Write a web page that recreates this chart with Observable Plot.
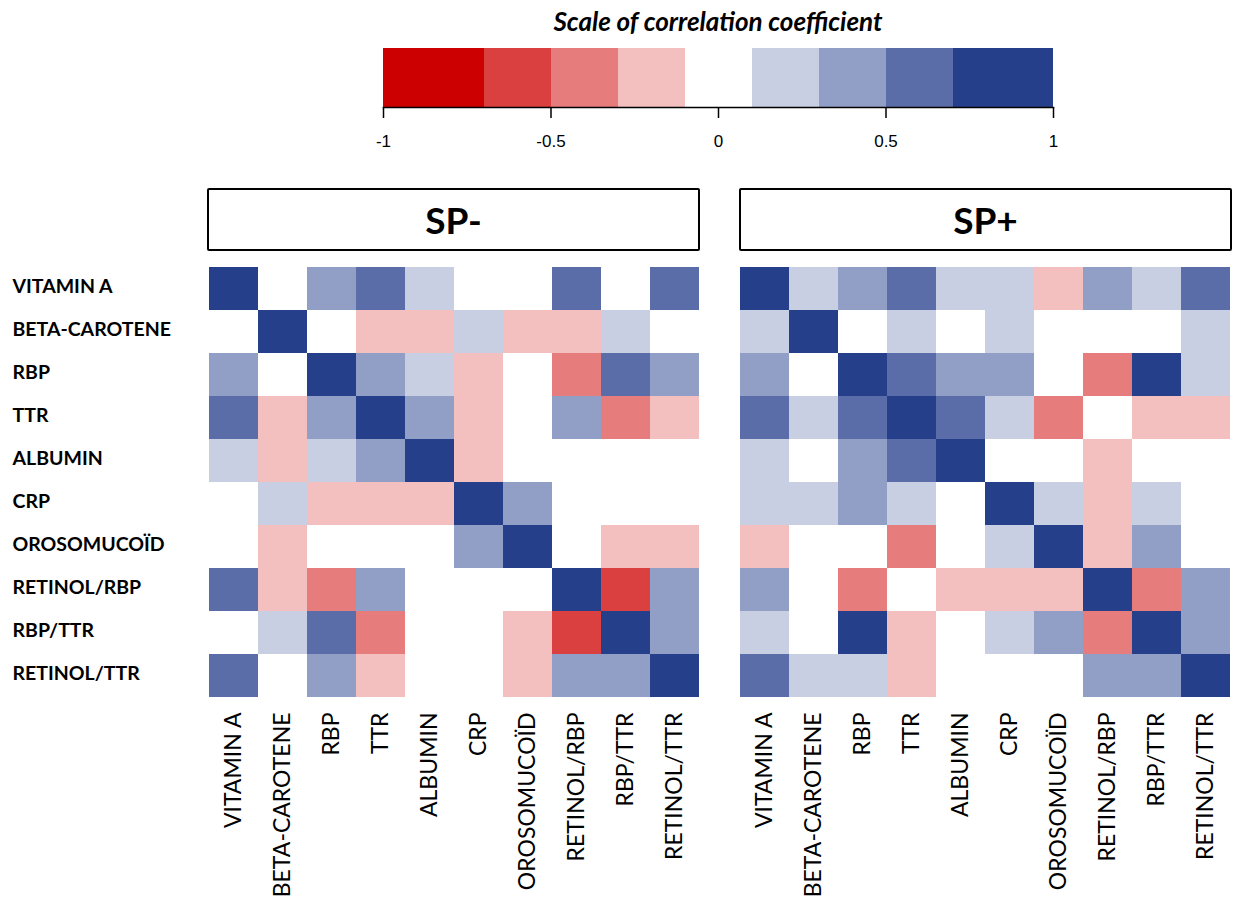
<!DOCTYPE html>
<html><head><meta charset="utf-8">
<script src="https://cdn.jsdelivr.net/npm/d3@7"></script>
<script src="https://cdn.jsdelivr.net/npm/@observablehq/plot@0.6"></script>
<style>
body{margin:0;background:#fff;}
#root{position:relative;width:1239px;height:905px;overflow:hidden;font-family:Lato,"Open Sans",sans-serif;}
#root svg{position:absolute;left:0;top:0;background:transparent;}
.title{position:absolute;left:383px;width:670px;top:4px;text-align:center;font-family:Lato,sans-serif;font-style:italic;font-weight:bold;font-size:26px;line-height:34px;color:#000;}
.box{position:absolute;top:188px;height:63px;width:493px;border:2.5px solid #000;box-sizing:border-box;display:flex;align-items:center;justify-content:center;font-family:Lato,sans-serif;font-weight:bold;font-size:37px;color:#000;border-radius:2px;}
</style>
</head><body>
<div id="root">
  <div class="title">Scale of correlation coefficient</div>
</div>
<script>
// ---- data ----
const variables = ["VITAMIN A","BETA-CAROTENE","RBP","TTR","ALBUMIN","CRP","OROSOMUCOÏD","RETINOL/RBP","RBP/TTR","RETINOL/TTR"];
const groups = ["SP-","SP+"];

// estimated correlation coefficients (rows = y variable, columns = x variable)
const spMinus = [
  [1,    0,    0.4,  0.6,  0.2,  0,    0,    0.6,  0,    0.6],
  [0,    1,    0,   -0.2, -0.2,  0.2, -0.2, -0.2,  0.2,  0  ],
  [0.4,  0,    1,    0.4,  0.2, -0.2,  0,   -0.4,  0.6,  0.4],
  [0.6, -0.2,  0.4,  1,    0.4, -0.2,  0,    0.4, -0.4, -0.2],
  [0.2, -0.2,  0.2,  0.4,  1,   -0.2,  0,    0,    0,    0  ],
  [0,    0.2, -0.2, -0.2, -0.2,  1,    0.4,  0,    0,    0  ],
  [0,   -0.2,  0,    0,    0,    0.4,  1,    0,   -0.2, -0.2],
  [0.6, -0.2, -0.4,  0.4,  0,    0,    0,    1,   -0.6,  0.4],
  [0,    0.2,  0.6, -0.4,  0,    0,   -0.2, -0.6,  1,    0.4],
  [0.6,  0,    0.4, -0.2,  0,    0,   -0.2,  0.4,  0.4,  1  ]
];
const spPlus = [
  [1,    0.2,  0.4,  0.6,  0.2,  0.2, -0.2,  0.4,  0.2,  0.6],
  [0.2,  1,    0,    0.2,  0,    0.2,  0,    0,    0,    0.2],
  [0.4,  0,    1,    0.6,  0.4,  0.4,  0,   -0.4,  0.85, 0.2],
  [0.6,  0.2,  0.6,  1,    0.6,  0.2, -0.4,  0,   -0.2, -0.2],
  [0.2,  0,    0.4,  0.6,  1,    0,    0,   -0.2,  0,    0  ],
  [0.2,  0.2,  0.4,  0.2,  0,    1,    0.2, -0.2,  0.2,  0  ],
  [-0.2, 0,    0,   -0.4,  0,    0.2,  1,   -0.2,  0.4,  0  ],
  [0.4,  0,   -0.4,  0,   -0.2, -0.2, -0.2,  1,   -0.4,  0.4],
  [0.2,  0,    0.85,-0.2,  0,    0.2,  0.4, -0.4,  1,    0.4],
  [0.6,  0.2,  0.2, -0.2,  0,    0,    0,    0.4,  0.4,  1  ]
];

// colour scale classes
const binEdges = [-1, -0.7, -0.5, -0.3, -0.1, 0.1, 0.3, 0.5, 0.7, 1];
const palette = ["#cc0000","#da4040","#e77c7c","#f3bfbf","#ffffff","#c8cfe3","#919ec5","#5b6da8","#263f8b"];
const legendTicks = [-1, -0.5, 0, 0.5, 1];

// ---- build tables ----
const matrices = {"SP-": spMinus, "SP+": spPlus};
const cells = groups.flatMap(g => matrices[g].flatMap((row, i) =>
  row.map((r, j) => ({group: g, row: variables[i], col: variables[j], r}))));
const bins = binEdges.slice(1).map((hi, i) => ({lo: binEdges[i], hi, mid: (binEdges[i] + hi) / 2}));

const colorScale = {type: "threshold", domain: binEdges.slice(1, -1), range: palette};
const root = document.getElementById("root");

// ---- legend ----
const legend = Plot.plot({
  width: 1239, height: 160,
  marginLeft: 383, marginRight: 186, marginTop: 48, marginBottom: 53,
  style: {background: "transparent", fontFamily: "'Liberation Sans', Arial, sans-serif", fontSize: "17px"},
  x: {domain: [-1, 1]},
  color: colorScale,
  marks: [
    Plot.rect(bins, {x1: "lo", x2: "hi", fill: "mid", shapeRendering: "crispEdges"}),
    Plot.frame({anchor: "bottom", stroke: "#000", strokeWidth: 1.5}),
    Plot.axisX({ticks: legendTicks, tickFormat: d => String(d), tickSize: 11, tickPadding: 16,
      fontSize: 17, stroke: "#000", strokeWidth: 1.5, label: null})
  ]
});
root.appendChild(legend);

// ---- heatmaps ----
const main = Plot.plot({
  width: 1239, height: 905,
  marginLeft: 206, marginRight: 6, marginTop: 264, marginBottom: 206,
  style: {background: "transparent", fontFamily: "Lato, sans-serif", color: "#000"},
  fx: {domain: groups, paddingInner: 0.066, paddingOuter: 0, axis: null, label: null},
  x: {domain: variables, padding: 0},
  y: {domain: variables, padding: 0},
  color: colorScale,
  marks: [
    Plot.cell(cells, {fx: "group", x: "col", y: "row", fill: "r", inset: 0, shapeRendering: "crispEdges"}),
    Plot.axisX({tickRotate: -90, tickSize: 0, tickPadding: 13, fontSize: 23, label: null}),
    Plot.axisY({tickSize: 0, tickPadding: 0, textAnchor: "start", dx: -194, dy: -2, fontSize: 19.5, fontWeight: "bold", label: null})
  ]
});
root.appendChild(main);

// facet header boxes
const boxLeft = {"SP-": 207, "SP+": 739};
for (const g of groups) {
  const b = document.createElement("div");
  b.className = "box";
  b.style.left = boxLeft[g] + "px";
  b.textContent = g;
  root.appendChild(b);
}
</script>
</body></html>
